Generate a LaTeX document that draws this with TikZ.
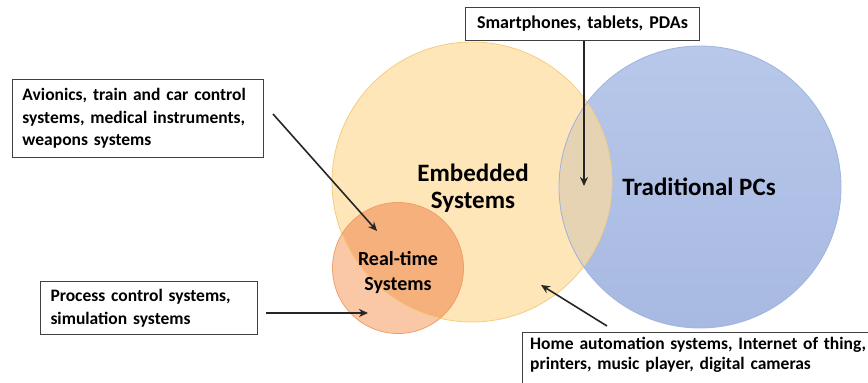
\documentclass[tikz,border=0pt]{standalone}
\usepackage{fontspec}
\setmainfont{Carlito}
\usetikzlibrary{arrows.meta,calc}
\definecolor{yfill}{HTML}{FFE6B8}
\definecolor{yedge}{HTML}{F5CC80}
\definecolor{btop}{HTML}{B8C8EA}
\definecolor{bbot}{HTML}{A8B9E2}
\definecolor{bedge}{HTML}{9FB3DF}
\definecolor{ovl}{HTML}{E6D3B3}
\definecolor{rtout}{HTML}{FAC8A6}
\definecolor{rtin}{HTML}{F5B07B}
\definecolor{rtedge}{HTML}{EFA068}
\definecolor{boxedge}{HTML}{404040}
\tikzset{
  infobox/.style={draw=boxedge, line width=1pt, fill=white, anchor=north west,
    inner xsep=#1, inner ysep=0pt, align=left, font=\bfseries\fontsize{17.5}{22.5}\selectfont},
  infobox/.default=10pt,
  boxline/.style={draw=boxedge, line width=1pt, fill=white},
  pointer/.style={-{Stealth[length=9pt,width=8pt]}, line width=1.6pt, draw=black!85},
  biglabel/.style={font=\bfseries\fontsize{25}{27}\selectfont, align=center},
  midlabel/.style={font=\bfseries\fontsize{20}{25}\selectfont, align=center}
}
\begin{document}
\begin{tikzpicture}[x=1pt,y=-1pt]
\useasboundingbox (0,0) rectangle (868,383);
\clip (0,0) rectangle (868,383);
% circles
\coordinate (ec) at (472,182);
\coordinate (bc) at (700,187);
\coordinate (rc) at (398,268);
\fill[yfill] (ec) circle (140);
\shade[top color=btop, bottom color=bbot] (bc) circle (141);
\begin{scope}
  \clip (ec) circle (140);
  \fill[ovl] (bc) circle (141);
\end{scope}
\fill[rtout] (rc) circle (65.5);
\begin{scope}
  \clip (ec) circle (140);
  \fill[rtin] (rc) circle (65.5);
\end{scope}
\draw[yedge, line width=0.8pt] (ec) circle (140);
\draw[bedge, line width=0.8pt] (bc) circle (141);
\draw[rtedge, line width=0.8pt] (rc) circle (65.5);
% labels
\node[biglabel] (emb) at (473,188) {Embedded\\Systems};
\node[biglabel] (pc) at (699,187) {Traditional PCs};
\node[midlabel] (rt) at (398,273) {Real-time\\Systems};
% boxes
\node[infobox, text width=231pt, minimum height=78pt] (av) at (12,79)
  {Avionics, train and car control\\systems, medical instruments,\\weapons systems};
\node[infobox=0pt, align=center, text width=234pt, minimum height=33pt,
  font=\bfseries\fontsize{18}{22}\selectfont] (sp) at (465,7)
  {Smartphones, tablets, PDAs};
\node[infobox, text width=197pt, minimum height=53pt] (pr) at (40,281)
  {Process control systems,\\simulation systems};
\coordinate (hotl) at (522,332);
\coordinate (hobr) at (900,420);
\draw[boxline] (hotl) rectangle (hobr);
\node[anchor=north west, inner xsep=8pt, inner ysep=0pt, align=left, text width=360pt,
  font=\bfseries\fontsize{17.5}{20}\selectfont] (ho) at (522,337)
  {Home automation systems, Internet of thing,\\printers, music player, digital cameras};
% arrow ends
\coordinate (avs) at (273,114);
\coordinate (avt) at (377,231);
\coordinate (sps) at (584,41);
\coordinate (spt) at (584,186);
\coordinate (prs) at (266,313);
\coordinate (prt) at (368,313);
\coordinate (hos) at (607,326);
\coordinate (hot) at (541,285);
\draw[pointer] (avs) -- (avt);
\draw[pointer] (sps) -- (spt);
\draw[pointer] (prs) -- (prt);
\draw[pointer] (hos) -- (hot);
\end{tikzpicture}
\end{document}
